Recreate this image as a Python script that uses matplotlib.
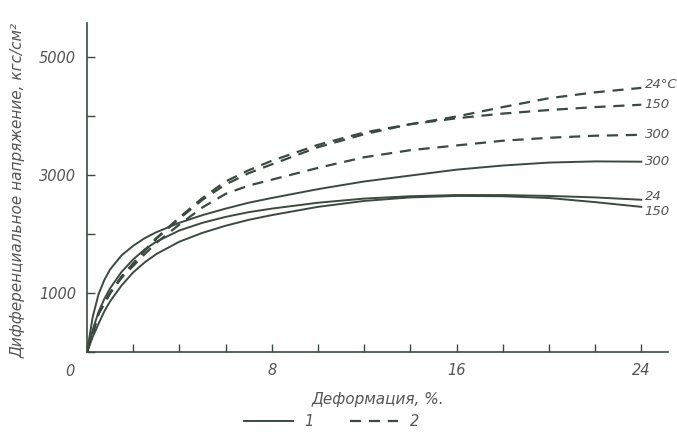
import numpy as np
import matplotlib.pyplot as plt
from matplotlib.lines import Line2D

# Деформация, %
x_s = [0, 0.25, 0.5, 0.75, 1, 1.5, 2, 2.5, 3, 4, 5, 6, 7, 8, 10, 12, 14, 16, 18, 20, 22, 24]
solid_300 = [0, 600, 980, 1220, 1400, 1640, 1800, 1930, 2030, 2190, 2320, 2430, 2530, 2610,
             2760, 2890, 2990, 3090, 3160, 3210, 3230, 3225]
solid_24 = [0, 380, 680, 900, 1080, 1360, 1570, 1740, 1870, 2060, 2190, 2290, 2370, 2430,
            2530, 2600, 2640, 2660, 2660, 2645, 2620, 2580]
solid_150 = [0, 260, 480, 690, 860, 1130, 1350, 1520, 1660, 1870, 2020, 2140, 2240, 2320,
             2460, 2560, 2620, 2645, 2640, 2610, 2540, 2460]

x_d = [0, 0.5, 1, 1.5, 2, 2.5, 3, 4, 5, 6, 7, 8, 10, 12, 14, 16, 18, 20, 22, 24]
dashed_24 = [0, 650, 1000, 1280, 1500, 1720, 1920, 2260, 2580, 2840, 3030, 3180, 3470, 3690,
             3860, 3990, 4150, 4300, 4400, 4475]
dashed_150 = [0, 650, 1000, 1280, 1500, 1720, 1930, 2280, 2610, 2890, 3080, 3240, 3510, 3720,
              3860, 3960, 4040, 4100, 4150, 4190]
dashed_300 = [0, 650, 1000, 1260, 1460, 1660, 1850, 2160, 2450, 2680, 2820, 2920, 3120, 3300,
              3420, 3500, 3580, 3630, 3665, 3680]

labels_end = ["24°C", "150", "300", "300", "24", "150"]

col = '#3b4a40'
txt = '#555555'

fig = plt.figure(figsize=(6.77, 4.32), dpi=100)
ax = fig.add_axes([0.1285, 0.185, 0.858, 0.762])

ax.plot(x_s, solid_300, color=col, lw=1.4)
ax.plot(x_s, solid_24, color=col, lw=1.4)
ax.plot(x_s, solid_150, color=col, lw=1.4)
ax.plot(x_d, dashed_24, color=col, lw=1.6, ls=(0, (5, 3.5)))
ax.plot(x_d, dashed_150, color=col, lw=1.6, ls=(0, (5, 3.5)))
ax.plot(x_d, dashed_300, color=col, lw=1.6, ls=(0, (5, 3.5)))

# подписи температур у концов кривых
ends = [dashed_24[-1], dashed_150[-1], dashed_300[-1], solid_300[-1], solid_24[-1], solid_150[-1]]
ends_pos = [ends[0] + 60, ends[1], ends[2], ends[3], ends[4] + 60, ends[5] - 80]
for lab, yv in zip(labels_end, ends_pos):
    ax.text(24.15, yv, lab, fontsize=9.5, fontstyle='italic', color=txt, va='center', ha='left')

ax.set_xlim(0, 25.15)
ax.set_ylim(0, 5576)
ax.spines['top'].set_visible(False)
ax.spines['right'].set_visible(False)
for s in ['left', 'bottom']:
    ax.spines[s].set_color(col)
    ax.spines[s].set_linewidth(1.2)

ax.set_xticks(np.arange(0, 25, 2))
ax.set_xticklabels(['' if (v % 8 or v == 0) else str(v) for v in range(0, 25, 2)])
ax.set_yticks([0, 1000, 2000, 3000, 4000, 5000])
ax.set_yticklabels(['', '1000', '', '3000', '', '5000'])
ax.tick_params(direction='in', length=6, width=1, color=col, labelcolor=txt, labelsize=10.5, pad=8)
for lb in ax.get_xticklabels() + ax.get_yticklabels():
    lb.set_fontstyle('italic')
ax.text(-0.75, -330, '0', fontsize=10.5, fontstyle='italic', color=txt, ha='center', va='center')

ax.set_xlabel('Деформация, %.', fontsize=11, fontstyle='italic', color=txt, labelpad=10)
ax.set_ylabel('Дифференциальное напряжение, кгс/см²', fontsize=11, fontstyle='italic', color=txt, labelpad=12)
ax.yaxis.set_label_coords(-0.105, 0.49)

handles = [Line2D([], [], color=col, lw=1.4), Line2D([], [], color=col, lw=1.6, ls=(0, (5, 3.5)))]
fig.legend(handles, ['1', '2'], loc='center', bbox_to_anchor=(0.49, 0.024), ncol=2, frameon=False,
           handlelength=3.3, columnspacing=2.5, prop={'style': 'italic', 'size': 10.5}, labelcolor=txt)

fig.savefig('out.png', dpi=100)
